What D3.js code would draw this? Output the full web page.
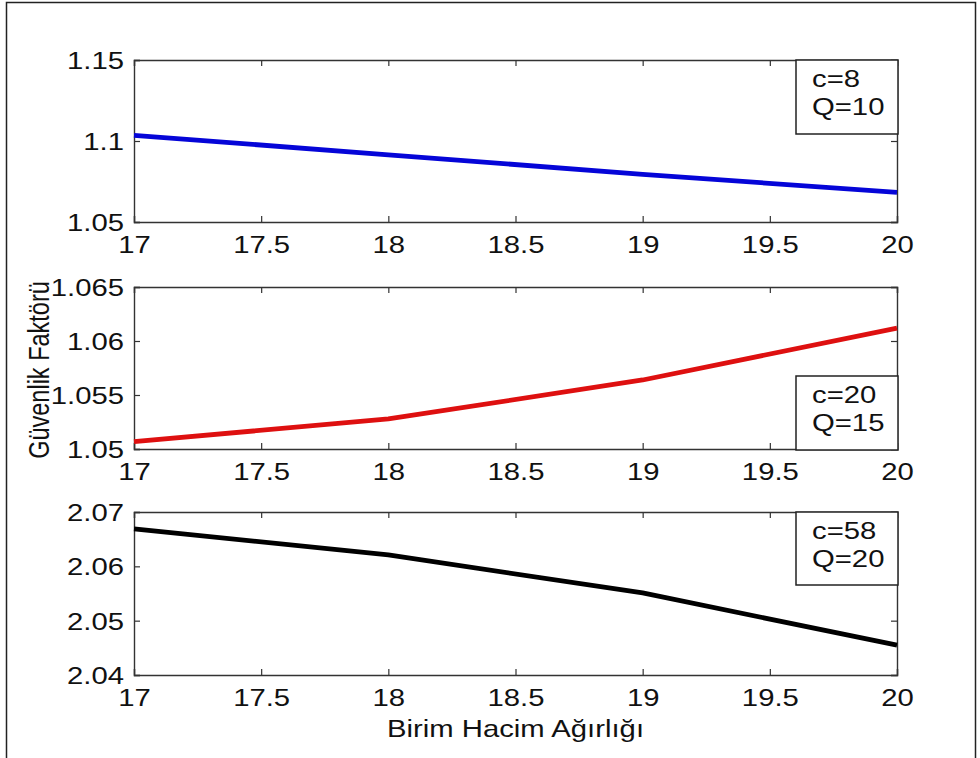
<!DOCTYPE html>
<html>
<head>
<meta charset="utf-8">
<script src="https://cdn.jsdelivr.net/npm/d3@7"></script>
<style>
  html, body { margin: 0; padding: 0; background: #fff; }
  svg { display: block; font-family: "Liberation Sans", Arial, sans-serif; }
</style>
</head>
<body>
<svg id="chart" width="980" height="758"></svg>
<script>
// Birim hacim ağırlığı (x) values shared by all three panels
const xValues = [17, 18, 19, 20];
const xTicks = [17, 17.5, 18, 18.5, 19, 19.5, 20];

// Güvenlik faktörü series, one per (c, Q) case
const seriesC8Q10 = [1.1035, 1.0915, 1.0794, 1.0683];
const seriesC20Q15 = [1.05068, 1.05278, 1.05639, 1.0612];
const seriesC58Q20 = [2.0669, 2.0621, 2.0551, 2.0455];

// Y-axis ticks per panel (first and last tick give the domain)
const yTicksTop = [1.05, 1.1, 1.15];
const yTicksMid = [1.05, 1.055, 1.06, 1.065];
const yTicksBot = [2.04, 2.05, 2.06, 2.07];

const legendTop = ["c=8", "Q=10"];
const legendMid = ["c=20", "Q=15"];
const legendBot = ["c=58", "Q=20"];

const panels = [
  { values: seriesC8Q10, ticks: yTicksTop, legend: legendTop, color: "#0505d8",
    top: 60, bottom: 222, legendBox: { y0: 60, y1: 134 } },
  { values: seriesC20Q15, ticks: yTicksMid, legend: legendMid, color: "#de1010",
    top: 287, bottom: 449, legendBox: { y0: 376, y1: 450 } },
  { values: seriesC58Q20, ticks: yTicksBot, legend: legendBot, color: "#000000",
    top: 512, bottom: 675, legendBox: { y0: 512, y1: 585 } }
];

const svg = d3.select("#chart");
const left = 134, right = 897;
const axisColor = "#333";
const tickLen = 6;
const fontSize = 24;
const sx = 1.22;            // horizontal widening applied to all text glyphs
const textColor = "#111";

// outer figure frame
svg.append("rect")
  .attr("x", 6.5).attr("y", 2.5).attr("width", 969).attr("height", 770)
  .attr("fill", "none").attr("stroke", "#222").attr("stroke-width", 1.5);

const x = d3.scaleLinear().domain([17, 20]).range([left, right]);
const fmt = d => String(+d.toFixed(4));

// widen a tick label in place, keeping its anchor point fixed
function widen(sel) {
  sel.each(function () {
    const t = d3.select(this);
    const x0 = +(t.attr("x") || 0);
    t.attr("x", x0 / sx).attr("transform", `scale(${sx},1)`);
  });
}

panels.forEach(p => {
  const y = d3.scaleLinear()
    .domain([p.ticks[0], p.ticks[p.ticks.length - 1]])
    .range([p.bottom, p.top]);
  const g = svg.append("g");

  // bottom axis: inward ticks, labels below
  const gx = g.append("g").attr("transform", `translate(0,${p.bottom})`)
    .call(d3.axisBottom(x).tickValues(xTicks).tickSize(-tickLen).tickPadding(14).tickFormat(fmt));
  // top axis: inward ticks only
  const gxt = g.append("g").attr("transform", `translate(0,${p.top})`)
    .call(d3.axisTop(x).tickValues(xTicks).tickSize(-tickLen).tickFormat(""));
  // left axis
  const gy = g.append("g").attr("transform", `translate(${left},0)`)
    .call(d3.axisLeft(y).tickValues(p.ticks).tickSize(-tickLen).tickPadding(10).tickFormat(fmt));
  // right axis
  const gyr = g.append("g").attr("transform", `translate(${right},0)`)
    .call(d3.axisRight(y).tickValues(p.ticks).tickSize(-tickLen).tickFormat(""));

  [gx, gxt, gy, gyr].forEach(a => {
    a.select(".domain").attr("stroke", axisColor).attr("stroke-width", 1.4);
    a.selectAll(".tick line").attr("stroke", axisColor).attr("stroke-width", 1.2);
    a.selectAll("text").attr("fill", textColor).attr("font-size", fontSize)
      .attr("font-family", "'Liberation Sans', Arial, sans-serif");
  });
  gx.selectAll("text").attr("dy", "0.71em");
  gy.selectAll("text").attr("dy", "0.35em");
  widen(gx.selectAll("text"));
  widen(gy.selectAll("text"));

  // data line
  const line = d3.line().x((d, i) => x(xValues[i])).y(d => y(d));
  g.append("path")
    .datum(p.values)
    .attr("d", line)
    .attr("fill", "none")
    .attr("stroke", p.color)
    .attr("stroke-width", 4.8)
    .attr("stroke-linejoin", "round");

  // legend box
  const lb = p.legendBox;
  g.append("rect")
    .attr("x", 796).attr("y", lb.y0).attr("width", right + 1 - 796).attr("height", lb.y1 - lb.y0)
    .attr("fill", "#fff").attr("stroke", "#222").attr("stroke-width", 1.5);
  p.legend.forEach((s, i) => {
    g.append("text")
      .attr("transform", `translate(812,${lb.y0 + 27 + i * 28}) scale(${sx},1)`)
      .attr("font-size", fontSize).attr("fill", textColor).text(s);
  });
});

// axis titles
svg.append("text")
  .attr("transform", `translate(${(left + right) / 2},737) scale(${sx},1)`)
  .attr("text-anchor", "middle").attr("font-size", fontSize).attr("fill", textColor)
  .text("Birim Hacim Ağırlığı");

svg.append("text")
  .attr("transform", `translate(49,370) scale(${sx},1) rotate(-90)`)
  .attr("text-anchor", "middle").attr("font-size", 23.5).attr("fill", textColor)
  .text("Güvenlik Faktörü");
</script>
</body>
</html>
